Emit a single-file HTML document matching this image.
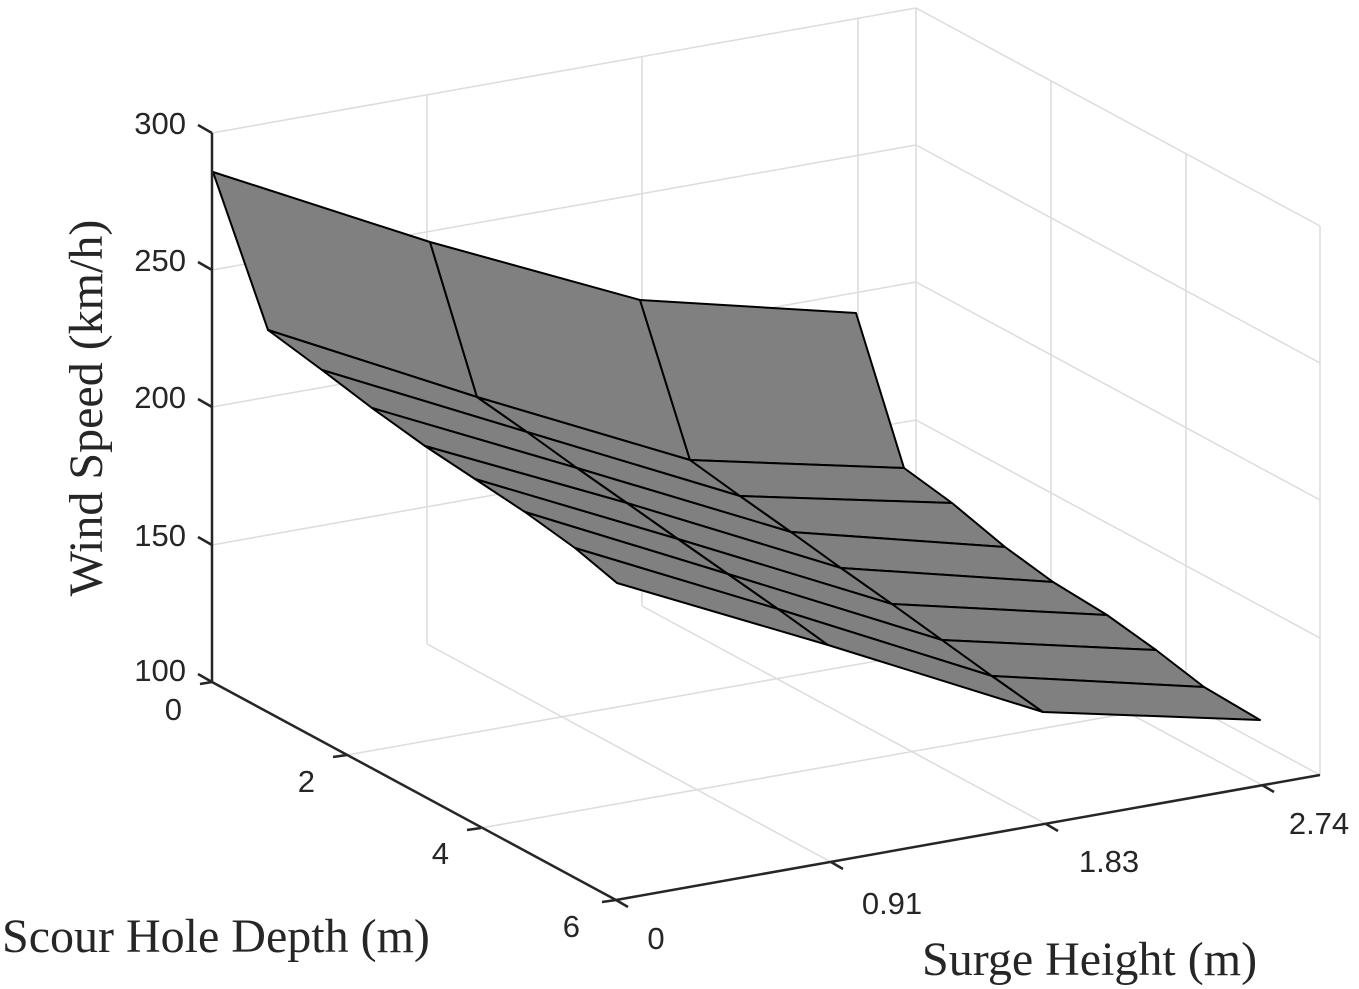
<!DOCTYPE html>
<html><head><meta charset="utf-8"><style>
html,body{margin:0;padding:0;background:#fff;}
svg{display:block;}
.t{font-family:"Liberation Sans",Arial,sans-serif;font-size:31px;fill:#262626;}
.ti{font-family:"Liberation Serif","Times New Roman",serif;font-size:48px;fill:#262626;}
</style></head><body>
<svg width="1359" height="989" viewBox="0 0 1359 989" xmlns="http://www.w3.org/2000/svg">
<g stroke="#dcdcdc" stroke-width="1.5" fill="none">
<line x1="212" y1="133" x2="916" y2="8"/>
<line x1="916" y1="8" x2="916" y2="557"/>
<line x1="212" y1="270" x2="916" y2="145"/>
<line x1="212" y1="407" x2="916" y2="282"/>
<line x1="212" y1="545" x2="916" y2="420"/>
<line x1="427" y1="644" x2="427" y2="95"/>
<line x1="642" y1="606" x2="642" y2="57"/>
<line x1="858" y1="567" x2="858" y2="18"/>
<line x1="916" y1="8" x2="1320" y2="226"/>
<line x1="1320" y1="226" x2="1320" y2="775"/>
<line x1="916" y1="145" x2="1320" y2="363"/>
<line x1="916" y1="282" x2="1320" y2="500"/>
<line x1="916" y1="420" x2="1320" y2="638"/>
<line x1="1051" y1="630" x2="1051" y2="81"/>
<line x1="1186" y1="703" x2="1186" y2="154"/>
<line x1="916" y1="557" x2="1320" y2="775"/>
<line x1="347" y1="755" x2="1051" y2="630"/>
<line x1="481" y1="828" x2="1186" y2="703"/>
<line x1="427" y1="644" x2="831" y2="862"/>
<line x1="642" y1="606" x2="1046" y2="824"/>
<line x1="858" y1="567" x2="1262" y2="785"/>
</g>
<g fill="#808080" stroke="#000" stroke-width="2" stroke-linejoin="round">
<polygon points="213,172 430,242 477,397 268,330"/>
<polygon points="430,242 640,300 690,460 477,397"/>
<polygon points="640,300 856,313 904,468 690,460"/>
<polygon points="268,330 477,397 527,432 322,370"/>
<polygon points="477,397 690,460 740,496 527,432"/>
<polygon points="690,460 904,468 952,503 740,496"/>
<polygon points="322,370 527,432 577,468 372,408"/>
<polygon points="527,432 740,496 791,532 577,468"/>
<polygon points="740,496 952,503 1005,547 791,532"/>
<polygon points="372,408 577,468 627,503 425,446"/>
<polygon points="577,468 791,532 841,568 627,503"/>
<polygon points="791,532 1005,547 1053,582 841,568"/>
<polygon points="425,446 627,503 678,539 475,479"/>
<polygon points="627,503 841,568 892,604 678,539"/>
<polygon points="841,568 1053,582 1107,615 892,604"/>
<polygon points="475,479 678,539 728,574 525,512"/>
<polygon points="678,539 892,604 942,640 728,574"/>
<polygon points="892,604 1107,615 1156,650 942,640"/>
<polygon points="525,512 728,574 778,609 575,548"/>
<polygon points="728,574 942,640 992,676 778,609"/>
<polygon points="942,640 1156,650 1204,687 992,676"/>
<polygon points="575,548 778,609 828,645 617,583"/>
<polygon points="778,609 992,676 1043,712 828,645"/>
<polygon points="992,676 1204,687 1260,720 1043,712"/>
</g>
<g stroke="#262626" stroke-width="2.5" fill="none">
<line x1="212" y1="133" x2="212" y2="682"/>
<line x1="212" y1="682" x2="616" y2="900"/>
<line x1="616" y1="900" x2="1320" y2="775"/>
<line x1="198" y1="125" x2="212" y2="133"/>
<line x1="198" y1="262" x2="212" y2="270"/>
<line x1="198" y1="399" x2="212" y2="407"/>
<line x1="198" y1="537" x2="212" y2="545"/>
<line x1="198" y1="674" x2="212" y2="682"/>
<line x1="212" y1="682" x2="200" y2="684"/>
<line x1="347" y1="755" x2="333" y2="757"/>
<line x1="481" y1="828" x2="467" y2="830"/>
<line x1="616" y1="900" x2="602" y2="902"/>
<line x1="616" y1="900" x2="628" y2="907"/>
<line x1="831" y1="862" x2="843" y2="869"/>
<line x1="1046" y1="824" x2="1058" y2="831"/>
<line x1="1262" y1="785" x2="1274" y2="792"/>
</g>
<g class="t" text-anchor="end">
<text x="186" y="134">300</text>
<text x="186" y="271">250</text>
<text x="186" y="408">200</text>
<text x="186" y="546">150</text>
<text x="186" y="681">100</text>
<text x="182" y="720">0</text>
<text x="315" y="792">2</text>
<text x="449" y="864">4</text>
<text x="580" y="937">6</text>
</g>
<g class="t" text-anchor="middle">
<text x="656" y="949">0</text>
<text x="892" y="914">0.91</text>
<text x="1109" y="872">1.83</text>
<text x="1319" y="834">2.74</text>
</g>
<text class="ti" x="2" y="952">Scour Hole Depth (m)</text>
<text class="ti" x="922" y="975">Surge Height (m)</text>
<text class="ti" text-anchor="middle" transform="translate(102,408) rotate(-90)">Wind Speed (km/h)</text>
</svg>
</body></html>
